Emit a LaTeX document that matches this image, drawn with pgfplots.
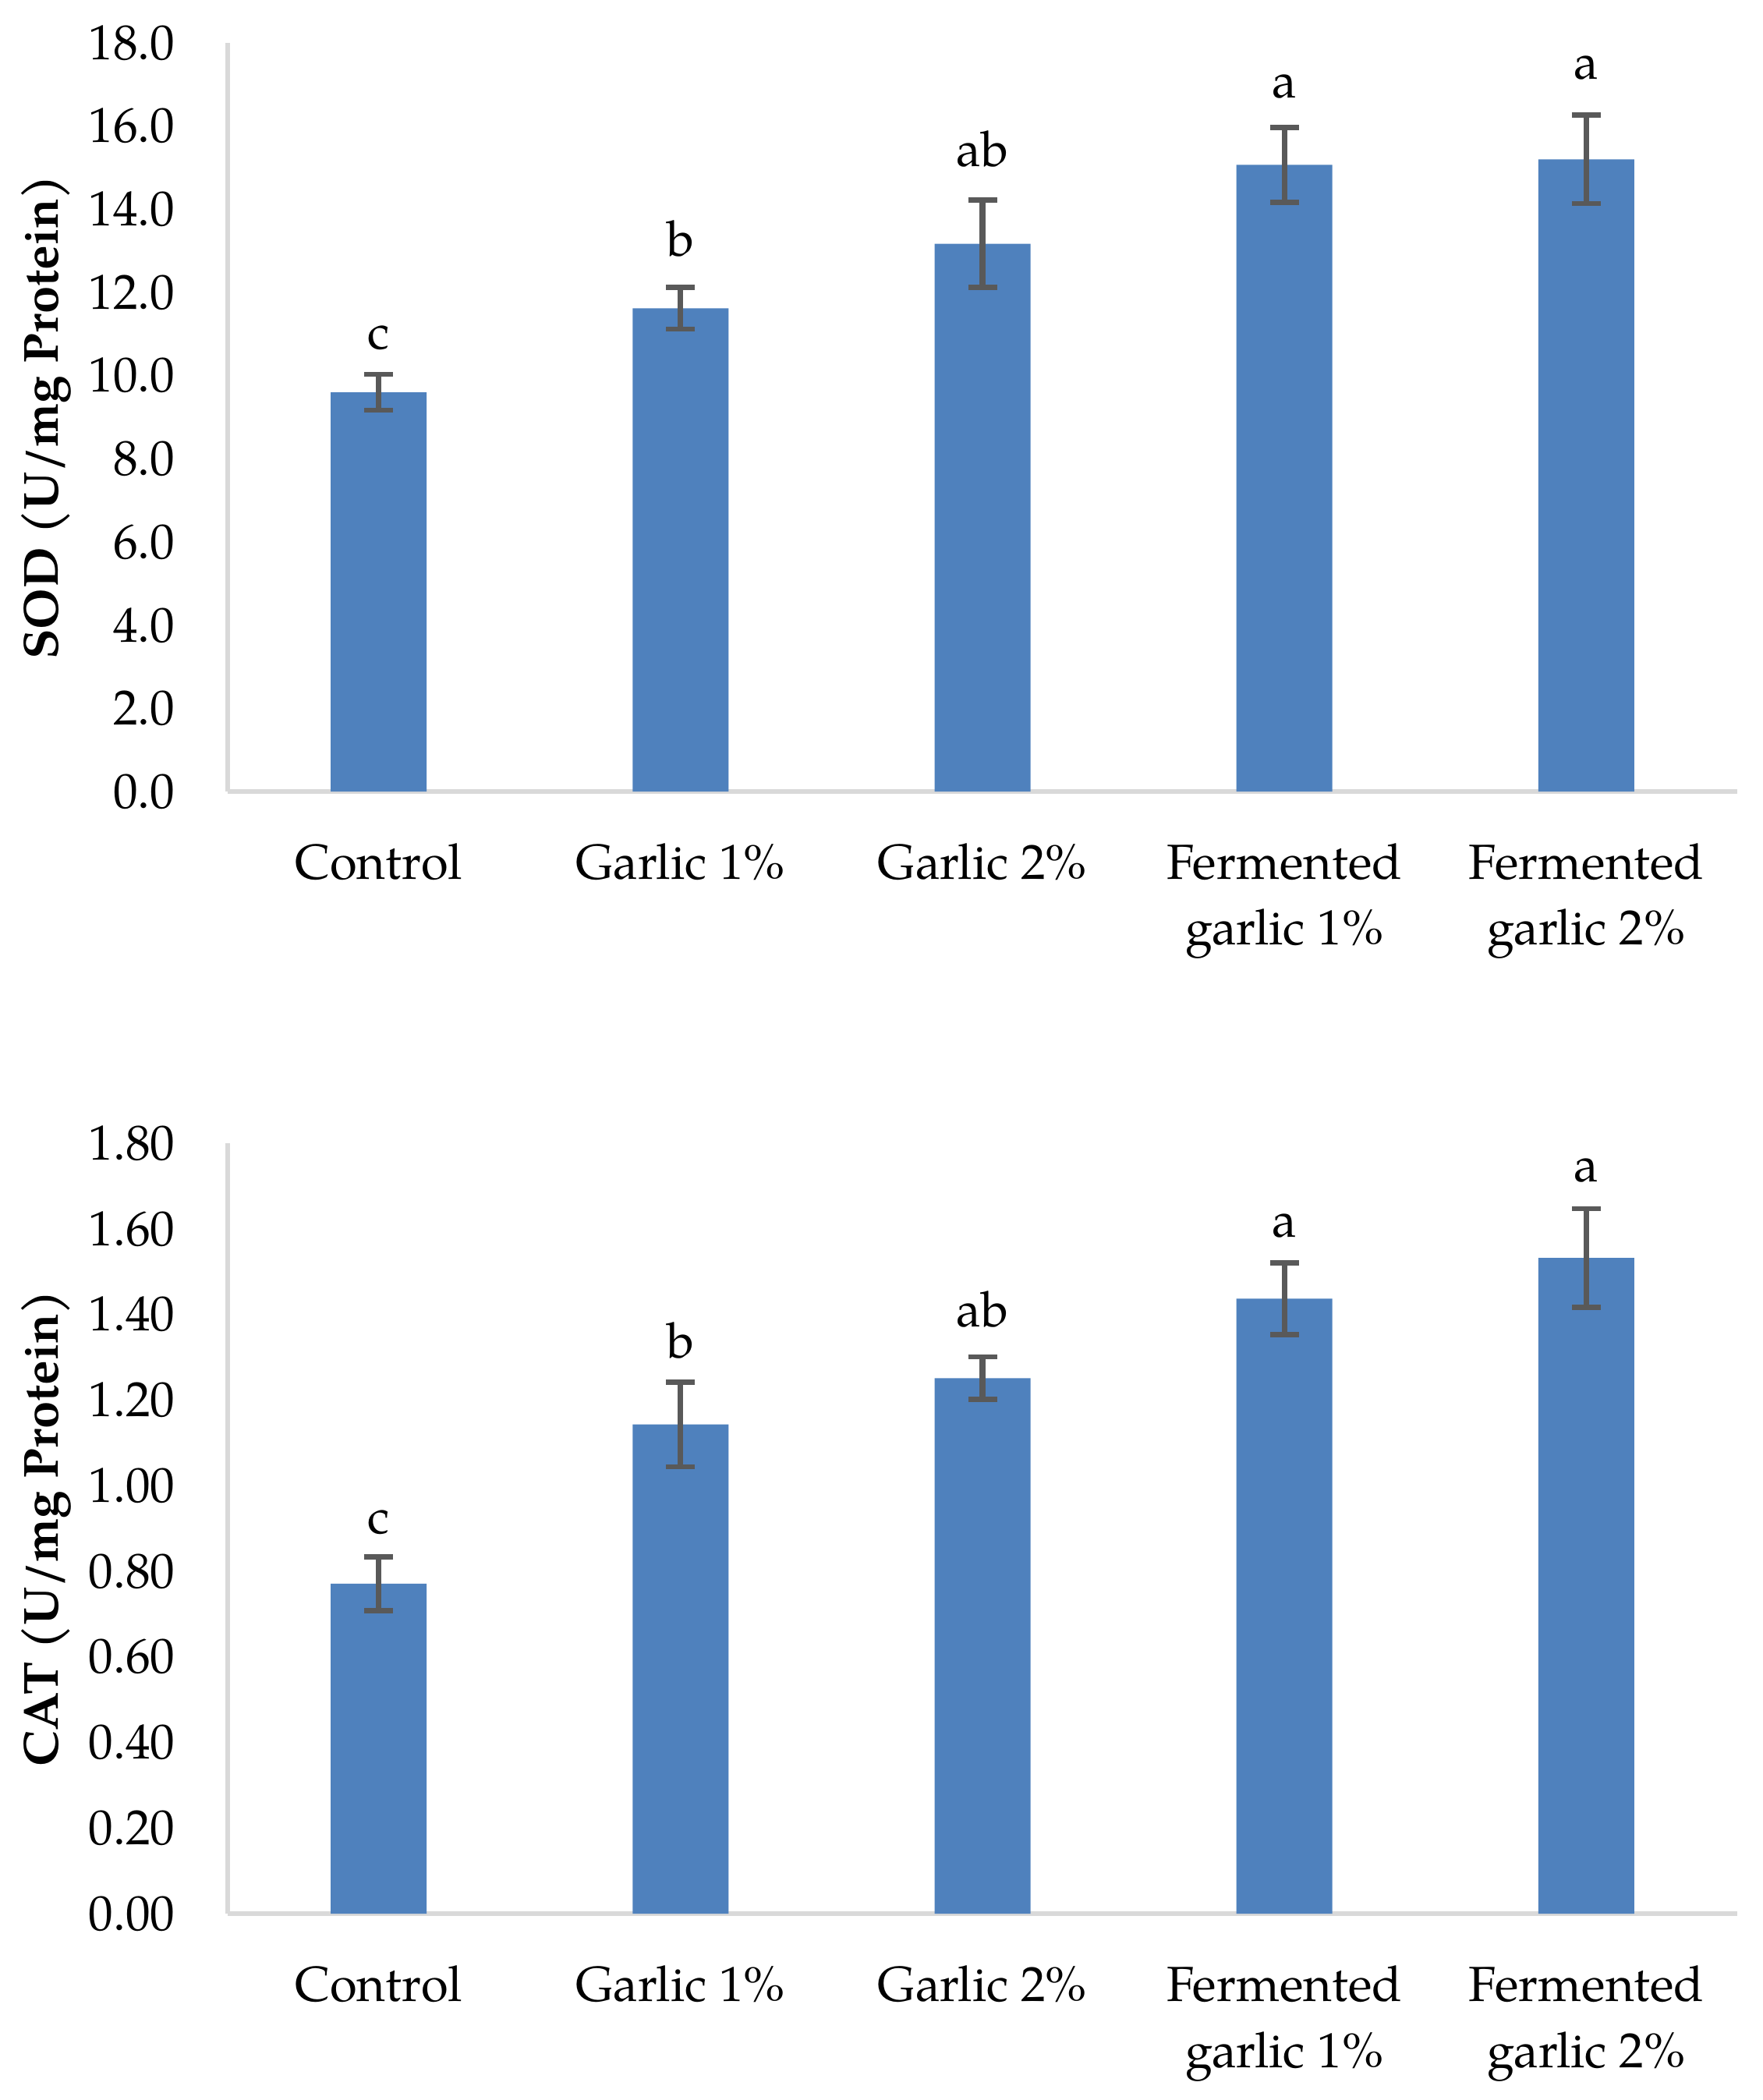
\documentclass[border=0pt]{standalone}
\usepackage{fontspec}
\setmainfont{TeX Gyre Pagella}
\usepackage{pgfplots}
\pgfplotsset{compat=1.18}

\definecolor{barblue}{HTML}{4F81BD}
\definecolor{errgray}{HTML}{595959}
\definecolor{axgray}{HTML}{D9D9D9}

\newcommand{\lblfont}{\fontsize{18}{24}\selectfont}

\pgfplotsset{
  garlic/.style={
    scale only axis,
    width=19.36cm,
    xmin=-0.5, xmax=4.5, ymin=0,
    axis x line*=bottom, axis y line*=left,
    axis line style={-, draw=axgray, line width=1.5pt},
    major tick length=0pt,
    xtick={0,1,2,3,4},
    xticklabels={Control, Garlic 1\%, Garlic 2\%, {Fermented\\garlic 1\%}, {Fermented\\garlic 2\%}},
    xticklabel style={align=center, anchor=north, inner sep=0pt, yshift=-0.66cm},
    yticklabel style={anchor=east, inner sep=0pt, xshift=-0.67cm,
      /pgf/number format/.cd, fixed, fixed zerofill, assume math mode=true},
    tick label style={font=\lblfont},
    ylabel style={font=\bfseries\lblfont, at={(axis description cs:-0.1126,0.5)}, anchor=base},
    clip=false,
  },
  bars/.style={
    ybar, bar width=1.23cm, fill=barblue, draw=none,
    error bars/.cd, y dir=both, y explicit,
    error bar style={line width=2pt, errgray},
    error mark options={rotate=90, mark size=0.185cm, line width=1.9pt, errgray},
  },
  letters/.style={
    draw=none, mark=none,
    nodes near coords, point meta=explicit symbolic,
    nodes near coords align={anchor=base},
    every node near coord/.append style={font=\lblfont, inner sep=0pt, text=black},
  },
}

\begin{document}
\begin{tikzpicture}
\path[use as bounding box] (0,0) rectangle (22.61cm,-26.93cm);

% SOD
\begin{axis}[garlic, at={(2.92cm,-10.15cm)}, anchor=south west,
  height=9.60cm, ymax=18, ytick={0,2,4,6,8,10,12,14,16,18},
  yticklabel style={/pgf/number format/precision=1},
  ylabel={SOD (U/mg Protein)}]
\addplot[bars] coordinates {
  (0,9.60) +- (0,0.43)
  (1,11.62) +- (0,0.50)
  (2,13.17) +- (0,1.05)
  (3,15.07) +- (0,0.90)
  (4,15.20) +- (0,1.06)
};
\addplot[letters] coordinates {
  (0,10.65) [c]
  (1,12.88) [b]
  (2,15.03) [ab]
  (3,16.67) [a]
  (4,17.13) [a]
};
\end{axis}

% CAT
\begin{axis}[garlic, at={(2.92cm,-24.54cm)}, anchor=south west,
  height=9.88cm, ymax=1.8, ytick={0,0.2,0.4,0.6,0.8,1.0,1.2,1.4,1.6,1.8},
  yticklabel style={/pgf/number format/precision=2},
  ylabel={CAT (U/mg Protein)}]
\addplot[bars] coordinates {
  (0,0.771) +- (0,0.063)
  (1,1.143) +- (0,0.099)
  (2,1.251) +- (0,0.050)
  (3,1.437) +- (0,0.084)
  (4,1.532) +- (0,0.115)
};
\addplot[letters] coordinates {
  (0,0.888) [c]
  (1,1.299) [b]
  (2,1.371) [ab]
  (3,1.581) [a]
  (4,1.710) [a]
};
\end{axis}
\end{tikzpicture}
\end{document}
